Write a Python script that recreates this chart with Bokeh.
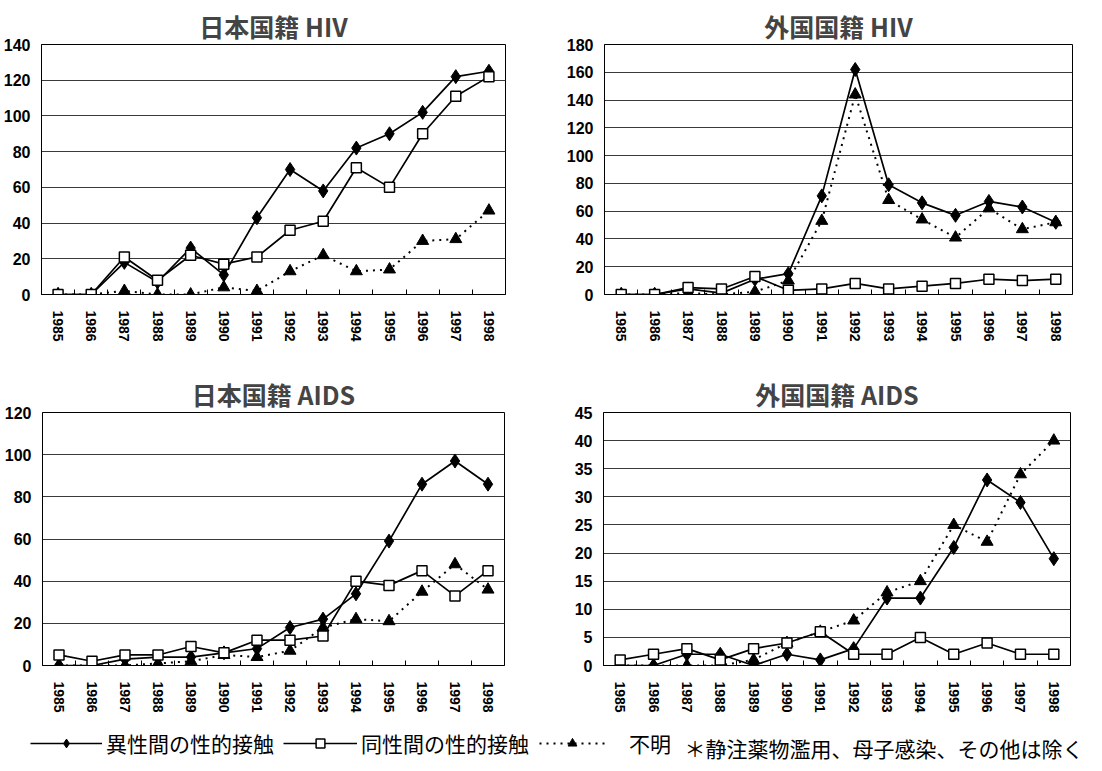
from bokeh.plotting import figure
from bokeh.models import Range1d, FixedTicker, NumeralTickFormatter, Legend, LegendItem, Label
from bokeh.layouts import column, row
from bokeh.embed import file_html
from bokeh.resources import INLINE

# ---------------- data ----------------
years = [1985, 1986, 1987, 1988, 1989, 1990, 1991, 1992, 1993, 1994, 1995, 1996, 1997, 1998]

titles = ["日本国籍 HIV", "外国国籍 HIV", "日本国籍 AIDS", "外国国籍 AIDS"]
series_labels = ["異性間の性的接触", "同性間の性的接触", "不明"]
note_text = "＊静注薬物濫用、母子感染、その他は除く"

jp_hiv_hetero = [0, 0, 18, 7, 26, 11, 43, 70, 58, 82, 90, 102, 122, 125]
jp_hiv_homo = [0, 0, 21, 8, 22, 17, 21, 36, 41, 71, 60, 90, 111, 122]
jp_hiv_unknown = [0, 0, 2, 0, 0, 4, 2, 13, 22, 13, 14, 30, 31, 47]

fr_hiv_hetero = [0, 0, 4, 1, 11, 15, 71, 162, 79, 66, 57, 67, 63, 52]
fr_hiv_homo = [0, 0, 5, 4, 13, 3, 4, 8, 4, 6, 8, 11, 10, 11]
fr_hiv_unknown = [0, 0, 1, 0, 2, 10, 53, 144, 68, 54, 41, 62, 47, 52]

jp_aids_hetero = [0, 0, 3, 4, 4, 6, 8, 18, 22, 34, 59, 86, 97, 86]
jp_aids_homo = [5, 2, 5, 5, 9, 6, 12, 12, 14, 40, 38, 45, 33, 45]
jp_aids_unknown = [0, 0, 0, 1, 2, 5, 4, 7, 18, 22, 21, 35, 48, 36]

fr_aids_hetero = [0, 0, 2, 2, 0, 2, 1, 3, 12, 12, 21, 33, 29, 19]
fr_aids_homo = [1, 2, 3, 1, 3, 4, 6, 2, 2, 5, 2, 4, 2, 2]
fr_aids_unknown = [0, 0, 0, 0, 1, 4, 6, 8, 13, 15, 25, 22, 34, 40]

y_max = [140, 180, 120, 45]
y_step = [20, 20, 20, 5]

# ---------------- styles ----------------
CJK = "Noto Sans CJK JP"
NUM = "Liberation Sans"

HET = dict(line=dict(line_color="black", line_width=1.7),
           mark=dict(marker="diamond", size=14, fill_color="black", line_color="black"))
HOM = dict(line=dict(line_color="black", line_width=1.7),
           mark=dict(marker="square", size=10, fill_color="white", line_color="black", line_width=1.5))
UNK = dict(line=dict(line_color="black", line_width=2, line_dash="2 5"),
           mark=dict(marker="triangle", size=12, fill_color="black", line_color="black"))


def make_chart(title, hetero, homo, unknown, ymax, ystep, width, height, bl, br, bt, bb):
    p = figure(width=width, height=height,
               x_range=Range1d(years[0] - 0.5, years[-1] + 0.5),
               y_range=Range1d(0, ymax),
               toolbar_location=None, output_backend="svg",
               min_border_left=bl, min_border_right=br,
               min_border_top=bt, min_border_bottom=bb,
               title=title)
    p.title.align = "center"
    p.title.text_font = CJK
    p.title.text_font_size = "25px"
    p.title.text_font_style = "bold"
    p.title.standoff = 2
    p.title.offset = 0

    p.outline_line_color = "black"
    p.outline_line_width = 1
    p.background_fill_color = "white"
    p.border_fill_color = "white"

    bounds = [y + 0.5 for y in years[:-1]]
    p.xaxis.ticker = FixedTicker(ticks=years, minor_ticks=bounds)
    p.xaxis.formatter = NumeralTickFormatter(format="0")
    p.xaxis.major_label_orientation = "vertical"
    p.xaxis.major_label_text_font = NUM
    p.xaxis.major_label_text_font_size = "14px"
    p.xaxis.major_label_text_font_style = "bold"
    p.xaxis.major_label_text_color = "black"
    p.xaxis.major_label_standoff = 16
    p.xaxis.major_tick_line_color = None
    p.xaxis.major_tick_in = 0
    p.xaxis.major_tick_out = 0
    p.xaxis.minor_tick_in = 5
    p.xaxis.minor_tick_out = 0
    p.xaxis.minor_tick_line_color = "black"
    p.xaxis.axis_line_color = "black"

    p.yaxis.ticker = FixedTicker(ticks=list(range(0, ymax + 1, ystep)))
    p.yaxis.major_label_text_font = NUM
    p.yaxis.major_label_text_font_size = "16px"
    p.yaxis.major_label_text_font_style = "bold"
    p.yaxis.major_label_text_color = "black"
    p.yaxis.major_label_standoff = 11
    p.yaxis.major_tick_line_color = None
    p.yaxis.major_tick_in = 0
    p.yaxis.major_tick_out = 0
    p.yaxis.minor_tick_line_color = None
    p.yaxis.axis_line_color = "black"

    p.xgrid.visible = False
    p.ygrid.grid_line_color = "#3a3a3a"
    p.ygrid.grid_line_width = 1

    p.line(years, unknown, **UNK["line"])
    p.scatter(years, unknown, **UNK["mark"])
    p.line(years, hetero, **HET["line"])
    p.scatter(years, hetero, **HET["mark"])
    p.line(years, homo, **HOM["line"])
    p.scatter(years, homo, **HOM["mark"])
    return p


p1 = make_chart(titles[0], jp_hiv_hetero, jp_hiv_homo, jp_hiv_unknown, y_max[0], y_step[0],
                552, 371, 38, 47, 44, 77)
p2 = make_chart(titles[1], fr_hiv_hetero, fr_hiv_homo, fr_hiv_unknown, y_max[1], y_step[1],
                530, 371, 52, 10, 44, 75)
p3 = make_chart(titles[2], jp_aids_hetero, jp_aids_homo, jp_aids_unknown, y_max[2], y_step[2],
                552, 346, 42, 48, 41, 52)
p4 = make_chart(titles[3], fr_aids_hetero, fr_aids_homo, fr_aids_unknown, y_max[3], y_step[3],
                530, 346, 51, 12, 41, 50)

# ---------------- legend strip ----------------
lg = figure(width=1086, height=46, x_range=Range1d(0, 1), y_range=Range1d(0, 1),
            toolbar_location=None, output_backend="svg",
            x_axis_location=None, y_axis_location=None,
            min_border=0)
lg.grid.visible = False
lg.outline_line_color = None
lg.background_fill_color = "white"
lg.border_fill_color = "white"

nan = [float("nan")]
leg_rends = []
for st in (HET, HOM, UNK):
    rl = lg.line(x=nan, y=nan, **st["line"])
    rs = lg.scatter(x=nan, y=nan, **st["mark"])
    leg_rends.append([rl, rs])

legend_specs = [
    (series_labels[0], leg_rends[0], 30, 72, 4),
    (series_labels[1], leg_rends[1], 283, 74, 4),
    (series_labels[2], leg_rends[2], 539, 66, 24),
]
for label, rends, lx, gw, stand in legend_specs:
    leg = Legend(items=[LegendItem(label=label, renderers=rends)],
                 location=(lx, 5), orientation="horizontal",
                 glyph_width=gw, glyph_height=22, label_height=22,
                 label_standoff=stand, padding=0, margin=0, spacing=0,
                 border_line_color=None, background_fill_alpha=0,
                 label_text_font=CJK, label_text_font_size="21px",
                 label_text_color="black")
    lg.add_layout(leg, "center")

lg.add_layout(Label(x=684, y=16, x_units="screen", y_units="screen",
                    text=note_text, text_font=CJK, text_font_size="21px",
                    text_baseline="middle", text_color="black"))

layout = column(row(p1, p2), row(p3, p4), lg)

with open("out.html", "w") as f:
    f.write(file_html(layout, INLINE))
